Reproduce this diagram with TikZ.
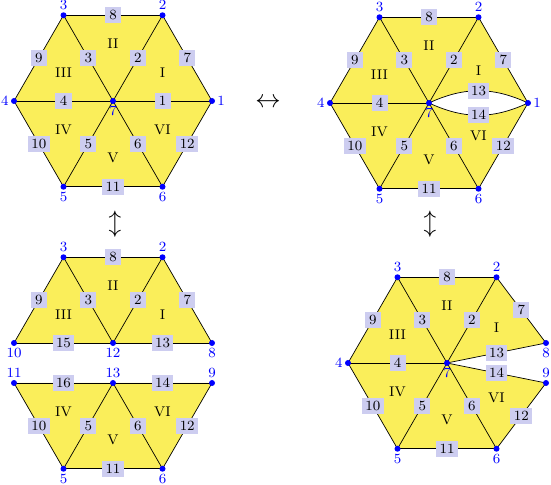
\documentclass[tikz,border=0pt]{standalone}
\usetikzlibrary{positioning}
\definecolor{hexyellow}{RGB}{250,238,90}
\definecolor{lablue}{RGB}{205,205,240}
\begin{document}
\begin{tikzpicture}[
        vtx/.style={circle, fill=blue, inner sep=0pt, minimum size=0.12cm},
        elab/.style={fill=lablue, inner xsep=2pt, inner ysep=1.5pt, minimum size=0.32cm, font=\footnotesize},
        rlab/.style={font=\footnotesize},
        cell/.style={fill=hexyellow},
        side/.style={thin},
        every label/.style={text=blue, font=\footnotesize, inner sep=1pt}
    ]
        \useasboundingbox (0,0) rectangle (11.02,9.70);

        % top left: the whole hexagon
        \begin{scope}[shift={(2.26,7.68)}]
            \coordinate (a7) at (0,0);
            \coordinate (a1) at (0:1.98);
            \coordinate (a2) at (60:1.98);
            \coordinate (a3) at (120:1.98);
            \coordinate (a4) at (180:1.98);
            \coordinate (a5) at (240:1.98);
            \coordinate (a6) at (300:1.98);
        \end{scope}
        \fill[cell] (a1) -- (a2) -- (a3) -- (a4) -- (a5) -- (a6) -- cycle;
        \draw[side] (a7) -- node[elab] {1} (a1);
        \draw[side] (a7) -- node[elab] {2} (a2);
        \draw[side] (a7) -- node[elab] {3} (a3);
        \draw[side] (a7) -- node[elab] {4} (a4);
        \draw[side] (a7) -- node[elab] {5} (a5);
        \draw[side] (a7) -- node[elab] {6} (a6);
        \draw[side] (a1) -- node[elab] {7} (a2);
        \draw[side] (a2) -- node[elab] {8} (a3);
        \draw[side] (a3) -- node[elab] {9} (a4);
        \draw[side] (a4) -- node[elab] {10} (a5);
        \draw[side] (a5) -- node[elab] {11} (a6);
        \draw[side] (a6) -- node[elab] {12} (a1);
        \node[rlab] (aI) at (barycentric cs:a7=1,a1=1,a2=1) {I};
        \node[rlab] (aII) at (barycentric cs:a7=1,a2=1,a3=1) {II};
        \node[rlab] (aIII) at (barycentric cs:a7=1,a3=1,a4=1) {III};
        \node[rlab] (aIV) at (barycentric cs:a7=1,a4=1,a5=1) {IV};
        \node[rlab] (aV) at (barycentric cs:a7=1,a5=1,a6=1) {V};
        \node[rlab] (aVI) at (barycentric cs:a7=1,a6=1,a1=1) {VI};
        \node[vtx, label=right:1] (pa1) at (a1) {};
        \node[vtx, label=above:2] (pa2) at (a2) {};
        \node[vtx, label=above:3] (pa3) at (a3) {};
        \node[vtx, label=left:4] (pa4) at (a4) {};
        \node[vtx, label=below:5] (pa5) at (a5) {};
        \node[vtx, label=below:6] (pa6) at (a6) {};
        \node[vtx, label=below:7] (pa7) at (a7) {};

        % top right: edge 1 split in two
        \begin{scope}[shift={(8.58,7.64)}]
            \coordinate (b7) at (0,0);
            \coordinate (b1) at (0:1.98);
            \coordinate (b2) at (60:1.98);
            \coordinate (b3) at (120:1.98);
            \coordinate (b4) at (180:1.98);
            \coordinate (b5) at (240:1.98);
            \coordinate (b6) at (300:1.98);
        \end{scope}
        \fill[cell] (b1) -- (b2) -- (b3) -- (b4) -- (b5) -- (b6) -- cycle;
        \fill[white] (b7) to[bend left=25] (b1) to[bend left=25] (b7);
        \draw[side] (b7) to[bend left=25] node[elab] {13} (b1);
        \draw[side] (b7) to[bend right=25] node[elab] {14} (b1);
        \draw[side] (b7) -- node[elab] {2} (b2);
        \draw[side] (b7) -- node[elab] {3} (b3);
        \draw[side] (b7) -- node[elab] {4} (b4);
        \draw[side] (b7) -- node[elab] {5} (b5);
        \draw[side] (b7) -- node[elab] {6} (b6);
        \draw[side] (b1) -- node[elab] {7} (b2);
        \draw[side] (b2) -- node[elab] {8} (b3);
        \draw[side] (b3) -- node[elab] {9} (b4);
        \draw[side] (b4) -- node[elab] {10} (b5);
        \draw[side] (b5) -- node[elab] {11} (b6);
        \draw[side] (b6) -- node[elab] {12} (b1);
        \node[rlab, yshift=0.08cm] (bI) at (barycentric cs:b7=1,b1=1,b2=1) {I};
        \node[rlab] (bII) at (barycentric cs:b7=1,b2=1,b3=1) {II};
        \node[rlab] (bIII) at (barycentric cs:b7=1,b3=1,b4=1) {III};
        \node[rlab] (bIV) at (barycentric cs:b7=1,b4=1,b5=1) {IV};
        \node[rlab] (bV) at (barycentric cs:b7=1,b5=1,b6=1) {V};
        \node[rlab, yshift=-0.08cm] (bVI) at (barycentric cs:b7=1,b6=1,b1=1) {VI};
        \node[vtx, label=right:1] (pb1) at (b1) {};
        \node[vtx, label=above:2] (pb2) at (b2) {};
        \node[vtx, label=above:3] (pb3) at (b3) {};
        \node[vtx, label=left:4] (pb4) at (b4) {};
        \node[vtx, label=below:5] (pb5) at (b5) {};
        \node[vtx, label=below:6] (pb6) at (b6) {};
        \node[vtx, label=below:7] (pb7) at (b7) {};

        % bottom left: cut into two halves
        \begin{scope}[shift={(2.26,2.84)}]
            \coordinate (c12) at (0,0);
            \coordinate (c8) at (0:1.98);
            \coordinate (c2) at (60:1.98);
            \coordinate (c3) at (120:1.98);
            \coordinate (c10) at (180:1.98);
        \end{scope}
        \begin{scope}[shift={(2.26,2.04)}]
            \coordinate (c13) at (0,0);
            \coordinate (c9) at (0:1.98);
            \coordinate (c11) at (180:1.98);
            \coordinate (c5) at (240:1.98);
            \coordinate (c6) at (300:1.98);
        \end{scope}
        \fill[cell] (c8) -- (c2) -- (c3) -- (c10) -- cycle;
        \fill[cell] (c9) -- (c11) -- (c5) -- (c6) -- cycle;
        \draw[side] (c3) -- node[elab] {8} (c2);
        \draw[side] (c3) -- node[elab] {9} (c10);
        \draw[side] (c12) -- node[elab] {3} (c3);
        \draw[side] (c12) -- node[elab] {2} (c2);
        \draw[side] (c2) -- node[elab] {7} (c8);
        \draw[side] (c10) -- node[elab] {15} (c12);
        \draw[side] (c12) -- node[elab] {13} (c8);
        \draw[side] (c11) -- node[elab] {16} (c13);
        \draw[side] (c13) -- node[elab] {14} (c9);
        \draw[side] (c11) -- node[elab] {10} (c5);
        \draw[side] (c13) -- node[elab] {5} (c5);
        \draw[side] (c13) -- node[elab] {6} (c6);
        \draw[side] (c9) -- node[elab] {12} (c6);
        \draw[side] (c5) -- node[elab] {11} (c6);
        \node[rlab] (cI) at (barycentric cs:c12=1,c8=1,c2=1) {I};
        \node[rlab] (cII) at (barycentric cs:c12=1,c2=1,c3=1) {II};
        \node[rlab] (cIII) at (barycentric cs:c12=1,c3=1,c10=1) {III};
        \node[rlab] (cIV) at (barycentric cs:c13=1,c11=1,c5=1) {IV};
        \node[rlab] (cV) at (barycentric cs:c13=1,c5=1,c6=1) {V};
        \node[rlab] (cVI) at (barycentric cs:c13=1,c6=1,c9=1) {VI};
        \node[vtx, label=above:3] (pc3) at (c3) {};
        \node[vtx, label=above:2] (pc2) at (c2) {};
        \node[vtx, label=below:10] (pc10) at (c10) {};
        \node[vtx, label=below:12] (pc12) at (c12) {};
        \node[vtx, label=below:8] (pc8) at (c8) {};
        \node[vtx, label=above:11] (pc11) at (c11) {};
        \node[vtx, label=above:13] (pc13) at (c13) {};
        \node[vtx, label=above:9] (pc9) at (c9) {};
        \node[vtx, label=below:5] (pc5) at (c5) {};
        \node[vtx, label=below:6] (pc6) at (c6) {};

        % bottom right: slit opened at the right
        \begin{scope}[shift={(8.94,2.44)}]
            \coordinate (d7) at (0,0);
            \coordinate (d8) at (1.98,0.4);
            \coordinate (d9) at (1.98,-0.4);
            \coordinate (d2) at (60:1.98);
            \coordinate (d3) at (120:1.98);
            \coordinate (d4) at (180:1.98);
            \coordinate (d5) at (240:1.98);
            \coordinate (d6) at (300:1.98);
        \end{scope}
        \fill[cell] (d8) -- (d2) -- (d3) -- (d4) -- (d5) -- (d6) -- (d9) -- (d7) -- cycle;
        \draw[side] (d7) -- node[elab] {13} (d8);
        \draw[side] (d7) -- node[elab] {14} (d9);
        \draw[side] (d7) -- node[elab] {2} (d2);
        \draw[side] (d7) -- node[elab] {3} (d3);
        \draw[side] (d7) -- node[elab] {4} (d4);
        \draw[side] (d7) -- node[elab] {5} (d5);
        \draw[side] (d7) -- node[elab] {6} (d6);
        \draw[side] (d8) -- node[elab] {7} (d2);
        \draw[side] (d2) -- node[elab] {8} (d3);
        \draw[side] (d3) -- node[elab] {9} (d4);
        \draw[side] (d4) -- node[elab] {10} (d5);
        \draw[side] (d5) -- node[elab] {11} (d6);
        \draw[side] (d6) -- node[elab] {12} (d9);
        \node[rlab] (dI) at (barycentric cs:d7=1,d8=1,d2=1) {I};
        \node[rlab] (dII) at (barycentric cs:d7=1,d2=1,d3=1) {II};
        \node[rlab] (dIII) at (barycentric cs:d7=1,d3=1,d4=1) {III};
        \node[rlab] (dIV) at (barycentric cs:d7=1,d4=1,d5=1) {IV};
        \node[rlab] (dV) at (barycentric cs:d7=1,d5=1,d6=1) {V};
        \node[rlab] (dVI) at (barycentric cs:d7=1,d6=1,d9=1) {VI};
        \node[vtx, label=below:8] (pd8) at (d8) {};
        \node[vtx, label=above:9] (pd9) at (d9) {};
        \node[vtx, label=above:2] (pd2) at (d2) {};
        \node[vtx, label=above:3] (pd3) at (d3) {};
        \node[vtx, label=left:4] (pd4) at (d4) {};
        \node[vtx, label=below:5] (pd5) at (d5) {};
        \node[vtx, label=below:6] (pd6) at (d6) {};
        \node[vtx, label=below:7] (pd7) at (d7) {};

        % moves between the pictures
        \node (swap) at (5.36,7.64) {\Large$\leftrightarrow$};
        \node (cut) at (2.30,5.22) {\Large$\updownarrow$};
        \node (open) at (8.60,5.22) {\Large$\updownarrow$};
    \end{tikzpicture}
\end{document}
